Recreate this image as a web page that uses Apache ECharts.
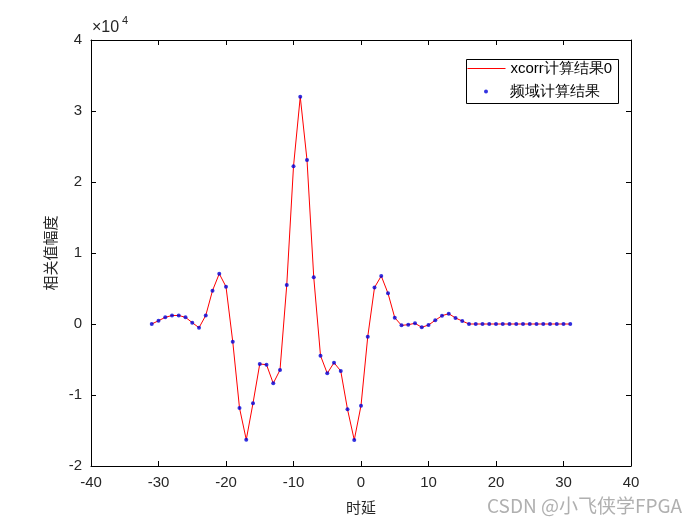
<!DOCTYPE html>
<html>
<head>
<meta charset="utf-8">
<script src="https://cdn.jsdelivr.net/npm/echarts@6/dist/echarts.min.js"></script>
<style>html,body{margin:0;padding:0;background:#fff}#c{width:700px;height:525px}</style>
</head>
<body>
<div id="c"></div>
<script>
const lags = [-31,-30,-29,-28,-27,-26,-25,-24,-23,-22,-21,-20,-19,-18,-17,-16,-15,-14,-13,-12,-11,-10,-9,-8,-7,-6,-5,-4,-3,-2,-1,0,1,2,3,4,5,6,7,8,9,10,11,12,13,14,15,16,17,18,19,20,21,22,23,24,25,26,27,28,29,30,31];
const xcorrValues = [0,460,940,1200,1200,940,190,-520,1200,4700,7080,5250,-2490,-11830,-16290,-11150,-5630,-5730,-8360,-6480,5490,22210,32000,23100,6570,-4460,-6950,-5450,-6620,-12020,-16340,-11500,-1780,5140,6760,4320,890,-190,-100,100,-470,-140,520,1170,1450,850,420,0,0,0,0,0,0,0,0,0,0,0,0,0,0,0,0];
const fftValues = xcorrValues.slice();
const xTicks = [-40,-30,-20,-10,0,10,20,30,40];
const yTicks = [-2,-1,0,1,2,3,4];
const seriesNames = ['xcorr计算结果0','频域计算结果'];

const chart = echarts.init(document.getElementById('c'), null, {renderer:'canvas'});
const font = 'Arial, "Liberation Sans", sans-serif';
const cjk = '"Noto Sans CJK SC", sans-serif';
const axisCommon = {
  axisLine:{show:true,onZero:false,lineStyle:{color:'#000',width:1}},
  axisTick:{show:true,inside:true,length:5,lineStyle:{color:'#000'}},
  splitLine:{show:false}
};
const legendCommon = {
  orient:'vertical',left:467,itemWidth:38,padding:0,
  textStyle:{fontFamily:font,fontSize:15,color:'#000'},
  selectedMode:false
};
chart.setOption({
  animation:false,
  backgroundColor:'#fff',
  grid:{left:91,right:69,top:40,bottom:59,outerBoundsMode:'none',containLabel:false},
  xAxis:[
    Object.assign({type:'value',min:-40,max:40,interval:10,position:'bottom',
      name:'时延',nameLocation:'middle',nameGap:34,
      nameTextStyle:{fontFamily:cjk,fontSize:15,color:'#262626'},
      axisLabel:{fontFamily:font,fontSize:15,color:'#262626',margin:9}},axisCommon),
    Object.assign({type:'value',min:-40,max:40,interval:10,position:'top',axisLabel:{show:false}},axisCommon)
  ],
  yAxis:[
    Object.assign({type:'value',min:-20000,max:40000,interval:10000,position:'left',
      name:'相关值幅度',nameLocation:'middle',nameGap:17,nameRotate:90,
      nameTextStyle:{fontFamily:cjk,fontSize:15,color:'#262626'},
      axisLabel:{fontFamily:font,fontSize:15,color:'#262626',margin:9,formatter:v=>String(v/10000)}},axisCommon),
    Object.assign({type:'value',min:-20000,max:40000,interval:10000,position:'right',axisLabel:{show:false}},axisCommon)
  ],
  legend:[
    Object.assign({top:61,data:[seriesNames[0]],itemHeight:1,lineStyle:{width:1}},legendCommon),
    Object.assign({top:84,data:[{name:seriesNames[1],icon:'path://M0,2L0,2M38,2L38,2M17,2a2,2 0 1,0 4,0a2,2 0 1,0 -4,0Z'}],itemHeight:4},legendCommon)
  ],
  graphic:[
    {type:'rect',left:464,top:57,shape:{width:152,height:44},style:{fill:'none',stroke:'#000',lineWidth:1},z:-1},
    {type:'text',left:92,top:20,style:{text:'×10',fontFamily:font,fontSize:16,fill:'#262626'}},
    {type:'text',left:122,top:15,style:{text:'4',fontFamily:font,fontSize:11,fill:'#262626'}},
    {type:'text',left:487,top:496,style:{text:'CSDN @小飞侠学FPGA',fontFamily:cjk,fontSize:19,fill:'#b0b0b0'}}
  ],
  series:[
    {name:seriesNames[0],type:'line',data:lags.map((x,i)=>[x,xcorrValues[i]]),
     symbol:'none',lineStyle:{color:'#ff0000',width:1},itemStyle:{color:'#ff0000'},z:2},
    {name:seriesNames[1],type:'scatter',data:lags.map((x,i)=>[x,fftValues[i]]),
     symbol:'circle',symbolSize:4,itemStyle:{color:'#0000d8'},z:3}
  ]
});
</script>
</body>
</html>
